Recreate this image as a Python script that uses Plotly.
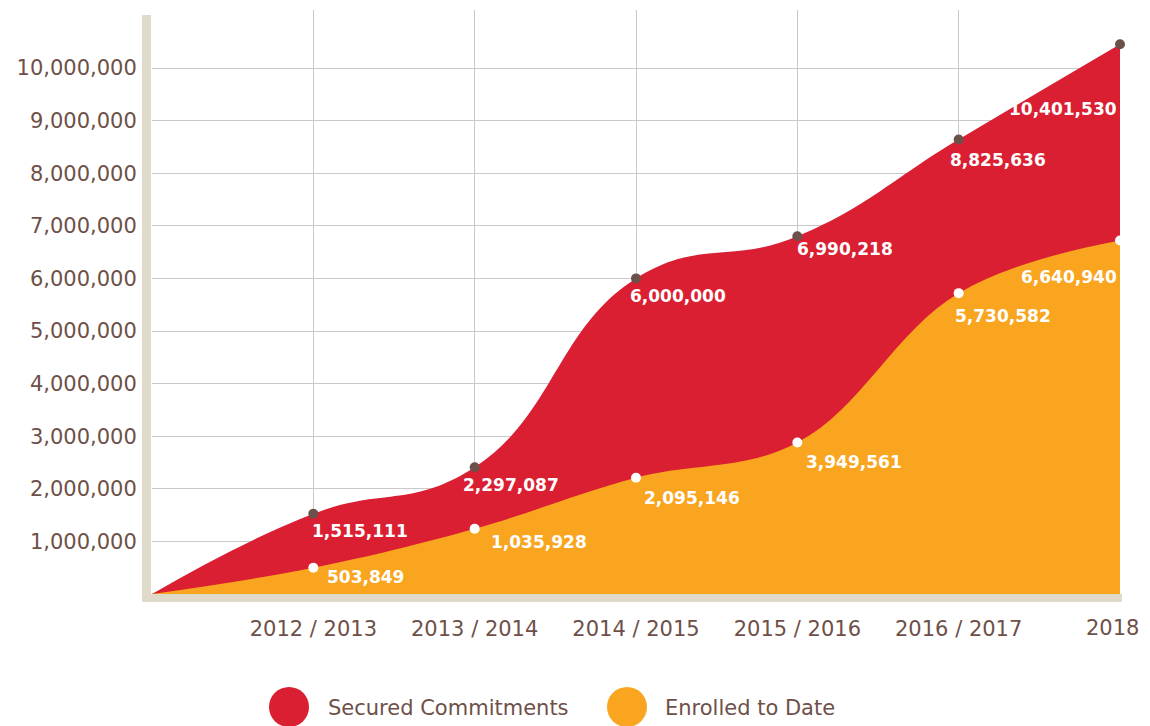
import plotly.graph_objects as go

# ---- data ----
categories = ["2012 / 2013", "2013 / 2014", "2014 / 2015", "2015 / 2016", "2016 / 2017", "2018"]
# plotted values (origin point first)
secured = [0, 1525000, 2410000, 6000000, 6800000, 8640000, 10450000]
enrolled = [0, 500000, 1240000, 2210000, 2880000, 5720000, 6720000]
secured_labels = ["1,515,111", "2,297,087", "6,000,000", "6,990,218", "8,825,636", "10,401,530"]
enrolled_labels = ["503,849", "1,035,928", "2,095,146", "3,949,561", "5,730,582", "6,640,940"]
y_ticks = [1000000 * i for i in range(1, 11)]
y_ticktext = ["{:,}".format(v) for v in y_ticks]
series_names = ["Secured Commitments", "Enrolled to Date"]

# ---- style ----
RED = "#DA1F33"
ORANGE = "#F9A51F"
BEIGE = "#E0DACB"
BROWN = "#6E5048"
DOT = "#6B5149"
GRID = "#C9C9C9"
FONT = "DejaVu Sans"

OFF = 8  # page body margin
W, H = 1150 - 2 * OFF, 726 - OFF
ML, MT = 152 - OFF, 10 - OFF
MR = W - (1120 - OFF)
MB = H - (594 - OFF)
PW, PH = W - ML - MR, H - MT - MB


def px(x):
    return (x - OFF - ML) / PW


def py(y):
    return (H - MB - (y - OFF)) / PH


xs = list(range(len(categories) + 1))

fig = go.Figure()
fig.add_trace(go.Scatter(
    x=xs, y=secured, mode="lines", fill="tozeroy",
    line=dict(shape="spline", smoothing=1.3, color=RED, width=0),
    fillcolor=RED, hoverinfo="skip", name=series_names[0]))
fig.add_trace(go.Scatter(
    x=xs, y=enrolled, mode="lines", fill="tozeroy",
    line=dict(shape="spline", smoothing=1.1, color=ORANGE, width=0),
    fillcolor=ORANGE, hoverinfo="skip", name=series_names[1]))
fig.add_trace(go.Scatter(
    x=xs[1:], y=secured[1:], mode="markers", cliponaxis=False,
    marker=dict(color=DOT, size=10), hoverinfo="skip"))
fig.add_trace(go.Scatter(
    x=xs[1:], y=enrolled[1:], mode="markers", cliponaxis=False,
    marker=dict(color="white", size=10), hoverinfo="skip"))

# label offsets (pixels): (xanchor, xshift, yshift)
sec_off = [("left", -3, -17), ("left", -14, -18), ("left", -8, -18),
           ("left", -2, -13), ("left", -11, -20), ("right", -1, -65)]
enr_off = [("left", 12, -9), ("left", 14, -13), ("left", 6, -20),
           ("left", 7, -19), ("left", -6, -23), ("right", -1, -36)]

annotations = []
for i, lab in enumerate(secured_labels):
    xa, xsft, ysft = sec_off[i]
    annotations.append(dict(x=xs[i + 1], y=secured[i + 1], text=lab, showarrow=False,
                            xanchor=xa, yanchor="middle", xshift=xsft, yshift=ysft,
                            font=dict(family=FONT, size=17, color="white", weight="bold")))
for i, lab in enumerate(enrolled_labels):
    xa, xsft, ysft = enr_off[i]
    annotations.append(dict(x=xs[i + 1], y=enrolled[i + 1], text=lab, showarrow=False,
                            xanchor=xa, yanchor="middle", xshift=xsft, yshift=ysft,
                            font=dict(family=FONT, size=17, color="white", weight="bold")))

# last category label (kept inside the visible page edge)
annotations.append(dict(x=xs[-1], xref="x", yref="paper", y=py(628), text=categories[-1],
                        showarrow=False, xanchor="right", yanchor="middle", xshift=21,
                        font=dict(family=FONT, size=21, color=BROWN)))

# legend
legend_items = [(289, 326, RED, series_names[0]), (627, 663, ORANGE, series_names[1])]
shapes = []
for cx, tx, col, name in legend_items:
    shapes.append(dict(type="circle", xref="paper", yref="paper",
                       x0=px(cx - 20), x1=px(cx + 20), y0=py(727), y1=py(687),
                       fillcolor=col, line=dict(width=0), layer="above"))
    annotations.append(dict(xref="paper", yref="paper", x=px(tx), y=py(708), text=name,
                            showarrow=False, xanchor="left", yanchor="middle",
                            font=dict(family=FONT, size=21, color=BROWN)))

# beige axis bars
shapes.append(dict(type="rect", xref="paper", yref="paper",
                   x0=px(142), x1=px(151), y0=py(602), y1=py(15),
                   fillcolor=BEIGE, line=dict(width=0), layer="above"))
shapes.append(dict(type="rect", xref="paper", yref="paper",
                   x0=px(142), x1=px(1122), y0=py(602), y1=py(594),
                   fillcolor=BEIGE, line=dict(width=0), layer="above"))

fig.update_layout(
    width=W, height=H,
    margin=dict(l=ML, r=MR, t=MT, b=MB, autoexpand=False),
    paper_bgcolor="white", plot_bgcolor="white",
    showlegend=False,
    annotations=annotations, shapes=shapes,
    xaxis=dict(range=[0, len(categories)], tickvals=xs[1:],
               ticktext=categories[:-1] + [""],
               showgrid=True, gridcolor=GRID, gridwidth=1, zeroline=False,
               showline=False, ticks="outside", ticklen=16, tickcolor="rgba(0,0,0,0)",
               automargin=False,
               tickfont=dict(family=FONT, size=21, color=BROWN), fixedrange=True),
    yaxis=dict(range=[0, PH / 52.6 * 1e6], tickvals=y_ticks, ticktext=y_ticktext,
               showgrid=True, gridcolor=GRID, gridwidth=1, zeroline=False,
               showline=False, ticks="outside", ticklen=10, tickcolor="rgba(0,0,0,0)",
               automargin=False,
               tickfont=dict(family=FONT, size=21, color=BROWN), fixedrange=True),
)

fig.write_html("out.html")
